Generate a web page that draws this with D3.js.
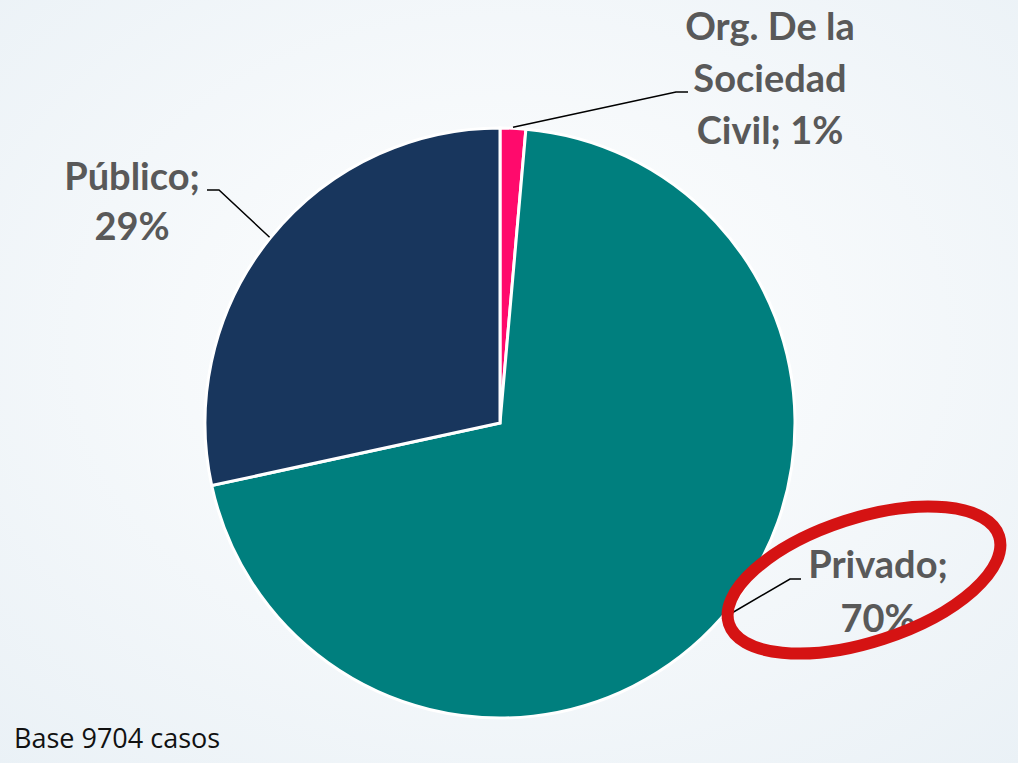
<!DOCTYPE html>
<html lang="es">
<head>
  <meta charset="utf-8">
  <title>Pie</title>
  <script src="https://cdnjs.cloudflare.com/ajax/libs/d3/7.8.5/d3.min.js"></script>
  <style type="text/css">
  body { margin: 0; background: #f6f9fb; }
  #pie { display: block; }
  .lbl {
    font-family: 'Lato', 'Open Sans', sans-serif;
    font-weight: 700;
    font-size: 38px;
    fill: #595959;
  }
  .base {
    font-family: 'Open Sans', sans-serif;
    font-size: 27px;
    fill: #111;
  }
  </style>
</head>
<body>
  <svg id="pie"></svg>
  <script type="text/javascript">
  // sector data, clockwise from 12 o'clock
  var categories = ["Org. De la Sociedad Civil", "Privado", "Público"];
  var values = [1.4, 70.2, 28.4];
  var pctLabels = ["1%", "70%", "29%"];
  var colors = ["#ff0a6c", "#007f7e", "#18365d"];
  // label text lines (as printed on the chart)
  var labelLines = [
    ["Org. De la", "Sociedad", "Civil; 1%"],
    ["Privado;", "70%"],
    ["Público;", "29%"]
  ];
  var baseText = "Base 9704 casos";

  var w = 1018, h = 763;
  var cx = 500, cy = 423, r = 295;

  var svg = d3.select("#pie")
    .attr("width", w)
    .attr("height", h);

  // faint background wash
  var defs = svg.append("defs");
  var grad = defs.append("radialGradient")
    .attr("id", "bg")
    .attr("cx", "50%").attr("cy", "45%").attr("r", "75%");
  grad.append("stop").attr("offset", "0%").attr("stop-color", "#ffffff");
  grad.append("stop").attr("offset", "100%").attr("stop-color", "#eaf1f6");
  svg.append("rect")
    .attr("width", w).attr("height", h)
    .attr("fill", "url(#bg)");

  var pie = d3.pie().sort(null).value(function(d) { return d; });
  var arc = d3.arc().innerRadius(0).outerRadius(r);
  var arcs = pie(values);

  svg.append("g")
    .attr("transform", "translate(" + cx + "," + cy + ")")
    .selectAll("path")
    .data(arcs)
    .enter()
    .append("path")
    .attr("d", arc)
    .attr("fill", function(d, i) { return colors[i]; })
    .attr("stroke", "#ffffff")
    .attr("stroke-width", 3)
    .attr("stroke-linejoin", "miter");

  // label positions and leader lines (mid-arc point -> elbow -> text)
  var labelPos = [
    { x: 770, y: 40, line: 52, elbow: [676, 92], end: [688, 92] },
    { x: 878, y: 578, line: 54, elbow: [790, 579], end: [801, 579] },
    { x: 132, y: 190, line: 50, elbow: [219, 190], end: [207, 190] }
  ];
  var edgeR = r + 1;
  var edgePts = arcs.map(function(d) {
    var a = (d.startAngle + d.endAngle) / 2;
    return [cx + Math.sin(a) * edgeR, cy - Math.cos(a) * edgeR];
  });

  svg.append("g")
    .selectAll("polyline")
    .data(labelPos)
    .enter()
    .append("polyline")
    .attr("points", function(d, i) {
      return [edgePts[i], d.elbow, d.end].map(function(p) { return p.join(","); }).join(" ");
    })
    .attr("fill", "none")
    .attr("stroke", "#000")
    .attr("stroke-width", 1.5);

  var lbl = svg.append("g")
    .selectAll("text")
    .data(labelPos)
    .enter()
    .append("text")
    .attr("class", "lbl")
    .attr("text-anchor", "middle");
  lbl.each(function(d, i) {
    var t = d3.select(this);
    labelLines[i].forEach(function(s, k) {
      t.append("tspan")
        .attr("x", d.x)
        .attr("y", d.y + k * d.line)
        .text(s);
    });
  });

  // red hand-drawn highlight around Privado
  svg.append("ellipse")
    .attr("cx", 864).attr("cy", 580)
    .attr("rx", 142).attr("ry", 62)
    .attr("transform", "rotate(-18 864 580)")
    .attr("fill", "none")
    .attr("stroke", "#d51313")
    .attr("stroke-width", 12);

  svg.append("text")
    .attr("class", "base")
    .attr("x", 14)
    .attr("y", 748)
    .text(baseText);
  </script>
</body>
</html>
